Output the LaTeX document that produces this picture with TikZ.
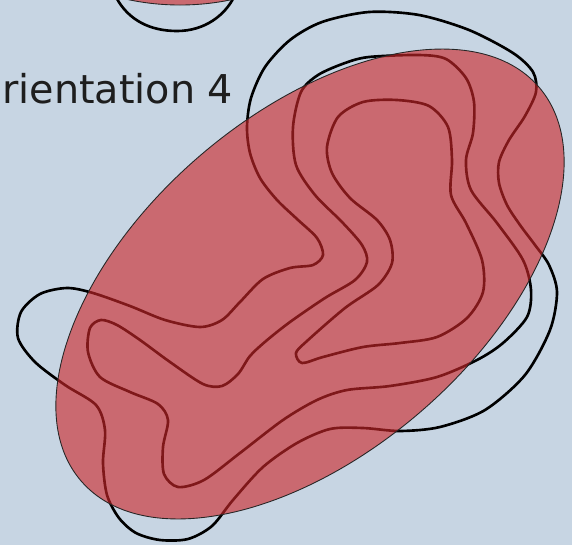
\documentclass[tikz,border=0pt]{standalone}
\usepackage{fontspec}
\newfontfamily\labelfont{DejaVu Sans}
\definecolor{bgblue}{RGB}{199,213,227}
\definecolor{ellred}{RGB}{205,40,42}
\definecolor{txtgray}{RGB}{30,30,30}

\begin{document}
\begin{tikzpicture}[
  x=0.02cm, y=0.02cm,
  contour/.style={draw=black, line width=1.5pt, line join=round},
  fitellipse/.style={fill=ellred, fill opacity=0.62, draw=black!85,
                     line width=0.5pt},
  lbl/.style={font=\labelfont\fontsize{22.6}{26}\selectfont, text=txtgray,
              inner sep=0pt}
]

  % ========== BACKGROUND ==========
  \useasboundingbox (0,0) rectangle (572,-545);
  \fill[bgblue] (0,0) rectangle (572,-545);

  % ========== PANEL ABOVE (cut off) ==========
  \draw[contour] (116,3) .. controls (128,-20) and (150,-31) .. (177,-31)
    .. controls (205,-31) and (225,-15) .. (234,3);
  \draw[fitellipse] (180,245) circle [radius=250];

  % ========== LABEL ==========
  \node[lbl, anchor=base east] (orient) at (233.5,-103.3) {Orientation 4};

  % ========== CONTOURS ==========
  % outer level
  \draw[contour] plot[smooth cycle] coordinates {
    (369,-12) (419,-15) (469,-30) (513,-53) (533,-72) (536,-92) (525,-116)
    (509,-140) (499,-162) (499,-183) (507,-205) (520,-225) (535,-245)
    (549,-265) (557,-292) (550,-330) (525,-375) (485,-410) (440,-427)
    (400,-431) (363,-428) (330,-429) (297,-443) (263,-467) (233,-500)
    (212,-526) (188,-539) (160,-540) (136,-533) (119,-518) (107,-495)
    (103,-463) (105,-430) (96,-405) (65,-385) (35,-362) (18,-338) (21,-312)
    (40,-294) (67,-288) (93,-293) (130,-306) (165,-320) (200,-327)
    (222,-320) (240,-302) (263,-279) (290,-268) (313,-265) (323,-255)
    (317,-238) (297,-219) (277,-200) (260,-178) (250,-153) (247,-127)
    (251,-98) (265,-67) (290,-40) (322,-22)};

  % middle level
  \draw[contour] plot[smooth cycle] coordinates {
    (369,-57) (419,-55) (446,-59) (466,-78) (474,-102) (473,-133) (466,-160)
    (471,-190) (497,-223) (523,-260) (531,-290) (527,-317) (503,-343)
    (477,-360) (437,-377) (390,-386) (347,-390) (317,-400) (283,-420)
    (240,-453) (204,-480) (178,-487) (164,-474) (163,-447) (168,-420)
    (158,-404) (130,-392) (100,-377) (88,-352) (90,-328) (101,-320)
    (117,-325) (140,-340) (170,-362) (203,-384) (222,-386) (238,-374)
    (250,-356) (266,-341) (290,-322) (325,-298) (355,-280) (367,-262)
    (362,-245) (342,-222) (315,-195) (296,-165) (293,-127) (301,-92)
    (318,-75) (345,-63)};

  % inner level
  \draw[contour] plot[smooth cycle] coordinates {
    (397,-100) (429,-106) (448,-127) (452,-160) (451,-195) (466,-223)
    (482,-260) (483,-292) (467,-318) (437,-337) (400,-343) (363,-347)
    (323,-357) (302,-363) (296,-353) (307,-341) (345,-308) (378,-285)
    (392,-263) (390,-240) (377,-220) (350,-198) (332,-173) (327,-147)
    (338,-117) (363,-102)};

  % ========== FITTED ELLIPSE ==========
  \draw[fitellipse, rotate around={40.7:(310,-284)}] (310,-284)
    ellipse [x radius=302, y radius=169];

\end{tikzpicture}
\end{document}
